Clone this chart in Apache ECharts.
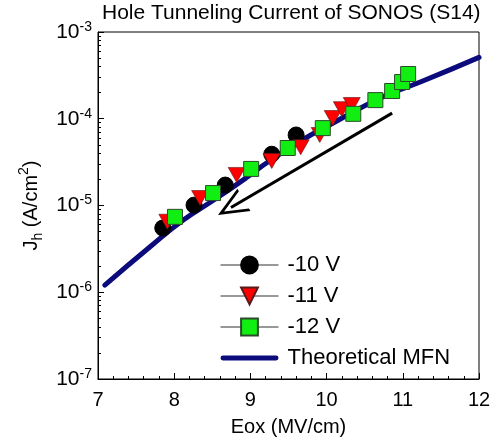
<!DOCTYPE html>
<html>
<head>
<meta charset="utf-8">
<script src="https://cdn.jsdelivr.net/npm/echarts@6/dist/echarts.min.js"></script>
<style>
  html, body { margin: 0; padding: 0; background: #fff; }
  #main { width: 498px; height: 446px; }
</style>
</head>
<body>
<div id="main"></div>
<script>
// data (Eox in MV/cm, Jh in A/cm^2)
var v10x = [7.85, 8.26, 8.67, 9.28, 9.60];
var v10y = [5.5e-6, 1.01e-5, 1.72e-5, 3.9e-5, 6.5e-5];

var v11x = [7.91, 8.34, 8.82, 9.28, 9.66, 9.91, 10.08, 10.20, 10.33];
var v11y = [6.5e-6, 1.22e-5, 2.25e-5, 3.26e-5, 4.7e-5, 6.5e-5, 1.02e-4, 1.29e-4, 1.44e-4];

var v12x = [8.01, 8.51, 9.01, 9.49, 9.95, 10.35, 10.64, 10.86, 10.99, 11.07];
var v12y = [7.4e-6, 1.39e-5, 2.64e-5, 4.6e-5, 7.8e-5, 1.14e-4, 1.64e-4, 2.09e-4, 2.65e-4, 3.28e-4];

var mfnX = [7.09, 7.68, 8.12, 8.56, 8.96, 9.23, 9.68, 10.11, 10.35, 10.79, 11.23, 12.0];
var mfnY = [1.21e-6, 3.32e-6, 6.8e-6, 1.22e-5, 2.13e-5, 3.17e-5, 5.69e-5, 9.18e-5, 1.2e-4, 1.88e-4, 2.65e-4, 5.1e-4];

// annotation arrow (start, end) in data coordinates
var arrowFrom = [10.86, 1.16e-4];
var arrowTo = [8.745, 9.5e-6];

var xTicks = [7, 8, 9, 10, 11, 12];
var yDecades = [1e-7, 1e-6, 1e-5, 1e-4, 1e-3];
var yMinor = [];
yDecades.slice(0, 4).forEach(function (d) {
  for (var k = 2; k <= 9; k++) yMinor.push(d * k);
});

function pairs(xs, ys) {
  return xs.map(function (x, i) { return [x, ys[i]]; });
}

var font = "'Liberation Sans', Arial, sans-serif";
var chart = echarts.init(document.getElementById('main'));

var option = {
  backgroundColor: '#fff',
  animation: false,
  textStyle: { fontFamily: font, color: '#000' },
  title: {
    text: 'Hole Tunneling Current of SONOS (S14)',
    left: 102,
    top: 3,
    padding: 0,
    textStyle: { fontFamily: font, fontSize: 21, fontWeight: 'normal', color: '#000' }
  },
  grid: {
    left: 98, right: 19, top: 32, bottom: 67,
    show: true, borderColor: '#000', borderWidth: 1
  },
  legend: {
    orient: 'vertical',
    left: 215,
    top: 249,
    itemWidth: 58,
    itemHeight: 21,
    itemGap: 9,
    textStyle: { fontFamily: font, fontSize: 22, lineHeight: 21, color: '#000', padding: [0, 0, 0, 4] },
    data: [
      { name: '-10 V', lineStyle: { opacity: 1, width: 1, color: '#333' } },
      { name: '-11 V', lineStyle: { opacity: 1, width: 1, color: '#333' } },
      { name: '-12 V', lineStyle: { opacity: 1, width: 1, color: '#333' } },
      { name: 'Theoretical MFN', icon: 'path://M2,0H56A2,2 0 0 1 56,5H2A2,2 0 0 1 2,0Z', itemStyle: { color: '#0b0b7c' } }
    ]
  },
  xAxis: {
    type: 'value',
    min: 7, max: 12, interval: 1,
    name: 'Eox (MV/cm)',
    nameLocation: 'middle',
    nameGap: 38,
    nameTextStyle: { fontFamily: font, fontSize: 20, color: '#000' },
    axisLine: { lineStyle: { color: '#000', width: 1 } },
    axisTick: { inside: true, length: 6, lineStyle: { color: '#000' } },
    minorTick: { show: true, splitNumber: 5, length: 3, lineStyle: { color: '#000' } },
    axisLabel: {
      margin: 11, fontFamily: font, fontSize: 20, color: '#000',
      customValues: xTicks
    },
    splitLine: { show: false }
  },
  yAxis: [{
    type: 'log',
    logBase: 10,
    min: 1e-7, max: 1e-3,
    name: '{n|J}{sub|h}{n| (A/cm}{sup|2}{n|)}',
    nameLocation: 'middle',
    nameGap: 51,
    nameRotate: 90,
    nameTextStyle: {
      fontFamily: font,
      rich: {
        n: { fontFamily: font, fontSize: 20, color: '#000', lineHeight: 28 },
        sub: { fontFamily: font, fontSize: 14, color: '#000', lineHeight: 28, verticalAlign: 'bottom' },
        sup: { fontFamily: font, fontSize: 14, color: '#000', lineHeight: 28, verticalAlign: 'top' }
      }
    },
    axisLine: { show: true, lineStyle: { color: '#000', width: 1 } },
    axisTick: { inside: true, length: 6, lineStyle: { color: '#000' } },
    axisLabel: {
      margin: 6,
      customValues: yDecades,
      formatter: function (v) {
        return '{b|10}{s|' + Math.round(Math.log10(v)) + '}';
      },
      rich: {
        b: { fontFamily: font, fontSize: 21, color: '#000', lineHeight: 24 },
        s: { fontFamily: font, fontSize: 14, color: '#000', lineHeight: 24, verticalAlign: 'top' }
      }
    },
    splitLine: { show: false }
  }, {
    type: 'log',
    logBase: 10,
    min: 1e-7, max: 1e-3,
    position: 'left',
    axisLine: { show: false },
    axisLabel: { show: false },
    axisTick: { show: true, inside: true, length: 3, customValues: yMinor, lineStyle: { color: '#000' } },
    splitLine: { show: false }
  }],
  series: [
    {
      name: '-10 V', type: 'line',
      data: pairs(v10x, v10y),
      symbol: 'circle', symbolSize: 16,
      lineStyle: { opacity: 0 },
      itemStyle: { color: '#000', borderColor: '#000', borderWidth: 1 },
      markLine: {
        silent: true,
        symbol: ['none', 'path://M13,0L26,30L23,30L13,7L3,30L0,30Z'],
        symbolSize: [26, 30],
        label: { show: false },
        lineStyle: { color: '#000', width: 3, type: 'solid' },
        itemStyle: { color: '#000' },
        data: [[{ coord: arrowFrom }, { coord: arrowTo }]]
      }
    },
    {
      name: '-11 V', type: 'line',
      data: pairs(v11x, v11y),
      symbol: 'triangle', symbolSize: [17, 15], symbolRotate: 180,
      lineStyle: { opacity: 0 },
      itemStyle: { color: '#ff0000', borderColor: '#5a1a1a', borderWidth: 0.6 }
    },
    {
      name: '-12 V', type: 'line',
      data: pairs(v12x, v12y),
      symbol: 'rect', symbolSize: 15,
      lineStyle: { opacity: 0 },
      itemStyle: { color: '#11ee11', borderColor: '#2b4a2b', borderWidth: 1 }
    },
    {
      name: 'Theoretical MFN', type: 'line',
      data: pairs(mfnX, mfnY),
      smooth: true,
      symbol: 'none',
      lineStyle: { color: '#0b0b7c', width: 5, cap: 'round' },
      itemStyle: { color: '#0b0b7c' }
    }
  ]
};

chart.setOption(option);
</script>
</body>
</html>
